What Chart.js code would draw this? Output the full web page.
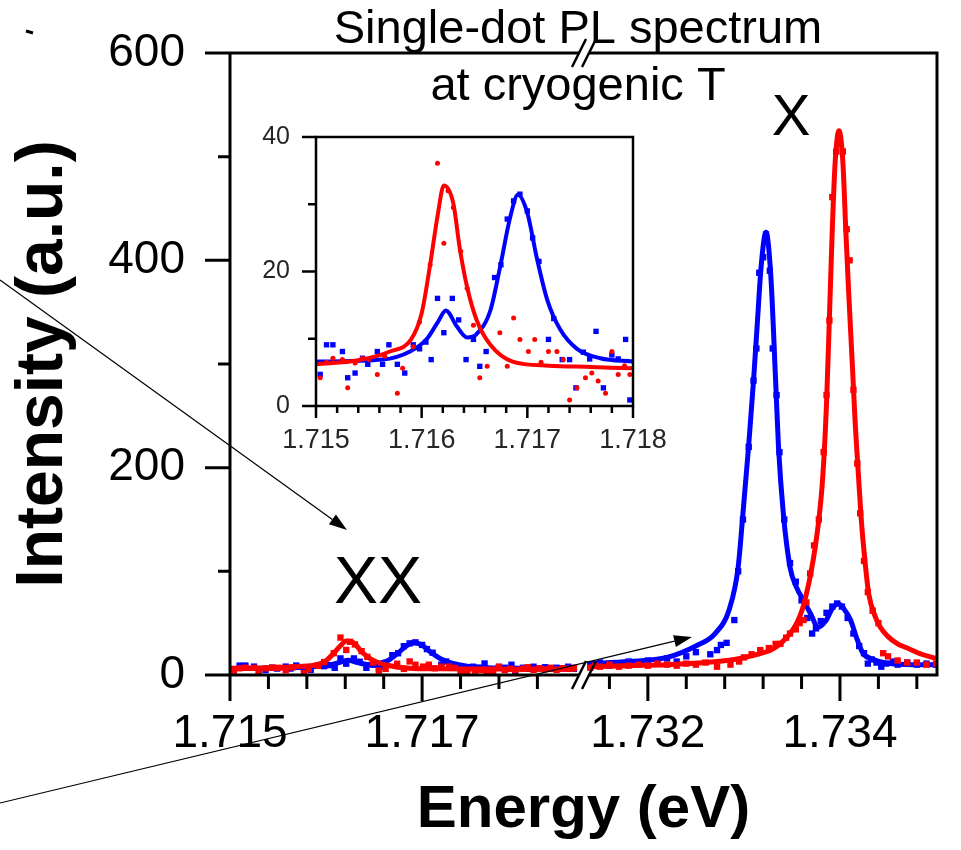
<!DOCTYPE html>
<html>
<head>
<meta charset="utf-8">
<script src="https://cdn.jsdelivr.net/npm/chart.js@4.4.1/dist/chart.umd.min.js"></script>
<style>
  html, body { margin: 0; padding: 0; background: #fff; }
  #wrap { position: relative; width: 961px; height: 850px; overflow: hidden; }
  #main { position: absolute; left: 0; top: 0; }
  #inset { position: absolute; left: 236px; top: 110px; }
</style>
</head>
<body>
<div id="wrap">
  <canvas id="main" width="961" height="850"></canvas>
  <canvas id="inset" width="440" height="360"></canvas>
</div>
<script>
// ---- data (energy in eV, intensity in a.u.) ----

// XX region, also shown enlarged in the inset
var xxRedFitE = [1.7150, 1.7154, 1.7157, 1.7159, 1.7160, 1.71608, 1.71615, 1.71621, 1.71630, 1.71636, 1.71643, 1.71652, 1.71665, 1.71686, 1.7172, 1.7176, 1.7180, 1.7183, 1.7186];
var xxRedFitI = [6.2, 6.8, 8.1, 9.9, 13.8, 21.0, 28.2, 32.8, 30.1, 23.5, 17.7, 12.8, 9.1, 6.6, 6.0, 5.8, 5.6, 5.6, 5.6];

var xxBlueFitE = [1.7150, 1.71563, 1.71589, 1.71605, 1.71615, 1.71623, 1.71633, 1.71643, 1.71652, 1.71665, 1.71674, 1.71684, 1.71691, 1.71700, 1.71709, 1.71719, 1.71731, 1.71747, 1.71769, 1.7180, 1.7183, 1.7186];
var xxBlueFitI = [6.6, 6.9, 8.1, 10.0, 12.4, 14.2, 11.9, 10.2, 10.7, 14.2, 20.5, 28.2, 31.4, 28.7, 22.0, 15.7, 11.4, 8.5, 7.1, 6.6, 6.5, 6.5];

var xxRedPtE = [1.71504, 1.71510, 1.71516, 1.71525, 1.71530, 1.71537, 1.71544, 1.71550, 1.71558, 1.71565, 1.71577, 1.71582, 1.71592, 1.71598, 1.71608, 1.71615, 1.71621, 1.71625, 1.71630, 1.71637, 1.71643, 1.71649, 1.71655, 1.71662, 1.71674, 1.71681, 1.71687, 1.71693, 1.71701, 1.71707, 1.71713, 1.71720, 1.71728, 1.71734, 1.71740, 1.71747, 1.71755, 1.71761, 1.71767, 1.71774, 1.71780, 1.71786, 1.71792, 1.71797, 1.71805, 1.71810, 1.71816, 1.71822, 1.71828, 1.71834, 1.71840, 1.71846, 1.71852, 1.71858];
var xxRedPtI = [4.2, 6.5, 7.1, 6.9, 2.7, 6.4, 7.1, 6.9, 4.7, 7.4, 1.9, 5.6, 8.8, 12.5, 21.0, 36.1, 24.2, 32.0, 29.5, 23.0, 17.5, 12.0, 4.2, 5.9, 10.9, 5.9, 13.1, 9.9, 8.1, 9.9, 6.5, 8.1, 8.1, 6.9, 0.9, 2.7, 4.2, 4.9, 3.7, 1.9, 8.1, 4.7, 6.0, 4.7, 6.0, 7.5, 5.0, 6.5, 5.5, 7.0, 5.0, 6.5, 6.0, 7.0];

var xxBluePtE = [1.71504, 1.71510, 1.71516, 1.71525, 1.71530, 1.71537, 1.71544, 1.71549, 1.71558, 1.71563, 1.71569, 1.71577, 1.71584, 1.71592, 1.71598, 1.71604, 1.71609, 1.71615, 1.71621, 1.71629, 1.71635, 1.71642, 1.71649, 1.71655, 1.71661, 1.71669, 1.71675, 1.71681, 1.71687, 1.71693, 1.71700, 1.71705, 1.71711, 1.71720, 1.71725, 1.71733, 1.71740, 1.71746, 1.71753, 1.71759, 1.71765, 1.71772, 1.71780, 1.71786, 1.71793, 1.71797, 1.71805, 1.71810, 1.71816, 1.71822, 1.71828, 1.71834, 1.71840, 1.71846, 1.71852, 1.71858];
var xxBluePtI = [4.7, 9.1, 9.1, 8.1, 4.2, 4.9, 7.1, 6.2, 8.1, 6.2, 9.1, 6.2, 4.9, 9.1, 8.5, 9.5, 6.9, 16.0, 10.9, 16.0, 12.8, 6.9, 9.9, 5.9, 8.1, 19.1, 21.0, 27.8, 30.5, 31.5, 29.0, 25.0, 21.5, 9.9, 13.0, 6.9, 6.9, 2.7, 8.0, 7.0, 11.1, 2.7, 7.6, 7.0, 9.9, 0.9, 7.0, 6.0, 8.0, 6.5, 7.5, 6.0, 7.0, 6.5, 8.0, 6.0];

// X region (right of the axis break)
var xRedFitE = [1.7314, 1.7318, 1.7322, 1.7326, 1.7329, 1.7331, 1.7333, 1.7334, 1.73348, 1.73355, 1.73361, 1.73366, 1.73370, 1.73374, 1.73378, 1.73382, 1.73386, 1.73389, 1.73392, 1.73395, 1.73399, 1.73403, 1.73406, 1.73409, 1.73413, 1.73416, 1.73419, 1.73422, 1.73426, 1.73430, 1.73436, 1.73442, 1.73450, 1.73460, 1.73470, 1.73485, 1.73500];
var xRedFitI = [8, 9, 10, 12, 15, 19, 25, 32, 40, 50, 64, 82, 100, 122, 150, 190, 262, 345, 430, 495, 525, 495, 430, 370, 297, 240, 196, 152, 110, 78, 58, 46, 37, 30, 26, 20, 16];

var xBlueFitE = [1.7314, 1.7318, 1.7322, 1.7325, 1.7327, 1.73285, 1.73294, 1.73299, 1.73305, 1.73310, 1.73314, 1.73318, 1.73323, 1.73328, 1.73333, 1.73336, 1.73341, 1.73348, 1.73355, 1.73362, 1.73370, 1.73377, 1.73385, 1.73392, 1.73398, 1.73404, 1.73411, 1.73418, 1.73424, 1.73435, 1.73452, 1.73475, 1.73500];
var xBlueFitI = [11, 13, 17, 28, 40, 64, 104, 156, 222, 284, 340, 395, 427, 385, 284, 220, 156, 104, 84, 72, 58, 46, 52, 64, 69, 64, 53, 34, 21, 15, 11, 10, 10];

var xRedPtE = [1.7314, 1.73145, 1.7315, 1.7316, 1.7317, 1.7318, 1.7319, 1.7320, 1.7321, 1.7322, 1.7323, 1.7324, 1.7325, 1.7326, 1.73272, 1.73286, 1.73295, 1.7330, 1.73308, 1.73317, 1.73326, 1.73333, 1.73338, 1.73344, 1.73348, 1.73354, 1.73358, 1.73362, 1.73365, 1.73369, 1.73373, 1.73378, 1.73383, 1.73386, 1.73389, 1.73392, 1.73396, 1.73400, 1.73403, 1.73407, 1.73410, 1.73414, 1.73418, 1.73421, 1.73425, 1.73429, 1.73434, 1.73440, 1.73445, 1.7345, 1.7346, 1.7347, 1.7348, 1.7349, 1.7350];
var xRedPtI = [7, 9, 8, 10, 8, 9, 10, 9, 11, 10, 9, 11, 10, 12, 8, 10, 13, 17, 20, 24, 26, 30, 30, 36, 40, 44, 50, 53, 70, 98, 125, 150, 215, 270, 342, 461, 505, 512, 505, 430, 400, 275, 204, 156, 110, 80, 62, 50, 21, 18, 14, 12, 12, 10, 11];

var xBluePtE = [1.7314, 1.7315, 1.7316, 1.7317, 1.7318, 1.7319, 1.7320, 1.7321, 1.7322, 1.7323, 1.7324, 1.7325, 1.73265, 1.73272, 1.73276, 1.73282, 1.7329, 1.73294, 1.73299, 1.73305, 1.73310, 1.73313, 1.73316, 1.73320, 1.73323, 1.73327, 1.73330, 1.73334, 1.73337, 1.73342, 1.73348, 1.73354, 1.73360, 1.73366, 1.73371, 1.73375, 1.73380, 1.73386, 1.73392, 1.73397, 1.73402, 1.73408, 1.73414, 1.73420, 1.73425, 1.73429, 1.73433, 1.73438, 1.73443, 1.73448, 1.73455, 1.7346, 1.7347, 1.7348, 1.7349, 1.7350];
var xBluePtI = [10, 12, 9, 11, 13, 12, 14, 12, 16, 13, 18, 22, 20, 24, 29, 31, 53, 100, 150, 220, 284, 315, 388, 403, 425, 390, 315, 270, 215, 150, 108, 90, 72, 55, 40, 45, 52, 60, 66, 69, 66, 55, 40, 28, 21, 11, 15, 12, 8, 11, 13, 10, 12, 10, 11, 10];

// tick positions and labels
var mainTicksLeft = [1.715, 1.7154, 1.7158, 1.7162, 1.7166, 1.717, 1.7174, 1.7178, 1.7182];
var mainTicksRight = [1.7316, 1.732, 1.7324, 1.7328, 1.7332, 1.7336, 1.734, 1.7344, 1.7348];
var mainMajor = [1.715, 1.717, 1.732, 1.734];
var insetTicks = [1.715, 1.7152, 1.7154, 1.7156, 1.7158, 1.716, 1.7162, 1.7164, 1.7166, 1.7168, 1.717, 1.7172, 1.7174, 1.7176, 1.7178, 1.718];
var insetMajor = [1.715, 1.716, 1.717, 1.718];
var titleLines = ['Single-dot PL spectrum', 'at cryogenic T'];

// ---- helpers ----
var FONT = '"Liberation Sans", Arial, Helvetica, sans-serif';
var RED = '#ff0000';
var BLUE = '#0000ff';
var OFF = 0.01265; // energy cut out by the axis break

Chart.defaults.font.family = FONT;
Chart.defaults.color = '#000';

function brk(e) { return e > 1.725 ? e - OFF : e; }
function realE(v) { return v > 1.7188 ? v + OFF : v; }
function toPts(es, is, maxE) {
  var out = [];
  for (var i = 0; i < es.length; i++) {
    if (maxE && es[i] > maxE) continue;
    out.push({ x: brk(es[i]), y: is[i] });
  }
  return out;
}
function isMajor(list, v) {
  for (var i = 0; i < list.length; i++) if (Math.abs(list[i] - v) < 1e-6) return true;
  return false;
}
function arrow(ctx, x1, y1, x2, y2) {
  var ang = Math.atan2(y2 - y1, x2 - x1);
  var len = 18, hw = 6;
  var bx = x2 - len * Math.cos(ang), by = y2 - len * Math.sin(ang);
  ctx.beginPath();
  ctx.moveTo(x1, y1);
  ctx.lineTo(bx, by);
  ctx.stroke();
  ctx.beginPath();
  ctx.moveTo(x2, y2);
  ctx.lineTo(bx + hw * Math.sin(ang), by - hw * Math.cos(ang));
  ctx.lineTo(bx - hw * Math.sin(ang), by + hw * Math.cos(ang));
  ctx.closePath();
  ctx.fill();
}
function lineSet(data, color, width) {
  return { data: data, showLine: true, pointRadius: 0, borderColor: color, backgroundColor: color,
           borderWidth: width, cubicInterpolationMode: 'monotone' };
}
function pointSet(data, color, style, r) {
  return { data: data, showLine: false, pointStyle: style, pointRadius: r, pointBorderWidth: 0,
           borderColor: color, backgroundColor: color };
}

// frame, ticks, break marks and annotations of the main plot
var mainDeco = {
  id: 'mainDeco',
  afterDraw: function (chart) {
    var ctx = chart.ctx, a = chart.chartArea;
    var sx = chart.scales.x, sy = chart.scales.y;
    var cut = (sx.getPixelForValue(1.7186) + sx.getPixelForValue(brk(1.7314))) / 2 + 1;
    ctx.save();
    ctx.fillStyle = '#000';
    ctx.textAlign = 'center';
    ctx.textBaseline = 'alphabetic';
    ctx.font = '47px ' + FONT;
    ctx.fillText(titleLines[0], 578, 43);
    ctx.fillText(titleLines[1], 578, 100);
    ctx.font = '58px ' + FONT;
    ctx.fillText('X', sx.getPixelForValue(brk(1.73349)), sy.getPixelForValue(521));
    ctx.font = '66px ' + FONT;
    ctx.fillText('XX', sx.getPixelForValue(1.71654), sy.getPixelForValue(69));

    ctx.strokeStyle = '#000';
    ctx.lineWidth = 3;
    ctx.beginPath();
    ctx.moveTo(a.left, a.top); ctx.lineTo(cut - 5, a.top);
    ctx.moveTo(cut + 5, a.top); ctx.lineTo(a.right, a.top);
    ctx.moveTo(a.left, a.bottom); ctx.lineTo(cut - 5, a.bottom);
    ctx.moveTo(cut + 5, a.bottom); ctx.lineTo(a.right, a.bottom);
    ctx.moveTo(a.left, a.top - 1.5); ctx.lineTo(a.left, a.bottom + 1.5);
    ctx.moveTo(a.right, a.top - 1.5); ctx.lineTo(a.right, a.bottom + 1.5);
    sx.ticks.forEach(function (t) {
      var px = sx.getPixelForValue(t.value);
      ctx.moveTo(px, a.bottom); ctx.lineTo(px, a.bottom + (t.label ? 26 : 14));
    });
    sy.ticks.forEach(function (t) {
      var py = sy.getPixelForValue(t.value);
      ctx.moveTo(a.left, py); ctx.lineTo(a.left - (t.label !== '' ? 25 : 12), py);
    });
    ctx.stroke();

    // axis break "//"
    ctx.lineWidth = 2.5;
    ctx.beginPath();
    [a.top, a.bottom].forEach(function (y) {
      [-5, 5].forEach(function (d) {
        ctx.moveTo(cut + d - 7, y + 14); ctx.lineTo(cut + d + 7, y - 14);
      });
    });
    ctx.stroke();

    // thin pointer arrows
    ctx.lineWidth = 1.2;
    arrow(ctx, 0, 280, 347, 530);
    arrow(ctx, 0, 803, 692, 637);

    // small stray mark top left
    ctx.lineWidth = 3;
    ctx.beginPath();
    ctx.moveTo(26, 31); ctx.lineTo(33, 33);
    ctx.stroke();
    ctx.restore();
  }
};

var insetDeco = {
  id: 'insetDeco',
  afterDraw: function (chart) {
    var ctx = chart.ctx, a = chart.chartArea;
    var sx = chart.scales.x, sy = chart.scales.y;
    ctx.save();
    ctx.strokeStyle = '#000';
    ctx.lineWidth = 2.5;
    ctx.strokeRect(a.left, a.top, a.right - a.left, a.bottom - a.top);
    ctx.beginPath();
    sx.ticks.forEach(function (t) {
      var px = sx.getPixelForValue(t.value);
      ctx.moveTo(px, a.bottom); ctx.lineTo(px, a.bottom + (t.label ? 12 : 7));
    });
    sy.ticks.forEach(function (t) {
      var py = sy.getPixelForValue(t.value);
      ctx.moveTo(a.left, py); ctx.lineTo(a.left - (t.label !== '' ? 14 : 8), py);
    });
    ctx.stroke();
    ctx.restore();
  }
};

var hiddenGrid = { drawOnChartArea: false, tickColor: 'rgba(0,0,0,0)' };

// ---- main chart ----
new Chart(document.getElementById('main'), {
  type: 'scatter',
  data: {
    datasets: [
      pointSet(toPts(xxRedPtE, xxRedPtI).concat(toPts(xRedPtE, xRedPtI)), RED, 'rect', 4.5),
      lineSet(toPts(xxRedFitE, xxRedFitI), RED, 5),
      lineSet(toPts(xRedFitE, xRedFitI), RED, 5),
      pointSet(toPts(xxBluePtE, xxBluePtI).concat(toPts(xBluePtE, xBluePtI)), BLUE, 'rect', 4.5),
      lineSet(toPts(xxBlueFitE, xxBlueFitI), BLUE, 5),
      lineSet(toPts(xBlueFitE, xBlueFitI), BLUE, 5)
    ]
  },
  options: {
    responsive: false,
    animation: false,
    devicePixelRatio: 1,
    layout: { padding: { left: 0, top: 53, right: 24, bottom: 0 } },
    plugins: { legend: { display: false }, tooltip: { enabled: false } },
    scales: {
      x: {
        type: 'linear',
        min: 1.715,
        max: 1.72236,
        afterBuildTicks: function (scale) {
          scale.ticks = mainTicksLeft.concat(mainTicksRight.map(brk)).map(function (v) { return { value: v }; });
        },
        afterFit: function (scale) { scale.height = 175; },
        border: { display: false },
        grid: Object.assign({ tickLength: 26 }, hiddenGrid),
        ticks: {
          autoSkip: false,
          maxRotation: 0,
          padding: 6,
          font: { size: 46 },
          color: '#000',
          callback: function (v) {
            var e = realE(v);
            return isMajor(mainMajor, e) ? e.toFixed(3) : '';
          }
        },
        title: {
          display: true,
          text: 'Energy (eV)',
          color: '#000',
          font: { size: 60, weight: 'bold' },
          padding: { top: 0, bottom: 4 }
        }
      },
      y: {
        min: 0,
        max: 600,
        afterFit: function (scale) { scale.width = 230; },
        border: { display: false },
        grid: Object.assign({ tickLength: 25 }, hiddenGrid),
        ticks: {
          stepSize: 100,
          padding: 20,
          font: { size: 46 },
          color: '#000',
          callback: function (v) { return v % 200 === 0 ? String(v) : ''; }
        },
        title: {
          display: true,
          text: 'Intensity (a.u.)',
          color: '#000',
          font: { size: 66, weight: 'bold' },
          padding: { top: 4, bottom: 0 }
        }
      }
    }
  },
  plugins: [mainDeco]
});

// ---- inset chart (XX region enlarged) ----
new Chart(document.getElementById('inset'), {
  type: 'scatter',
  data: {
    datasets: [
      pointSet(toPts(xxRedPtE, xxRedPtI, 1.71801), RED, 'circle', 2.5),
      lineSet(toPts(xxRedFitE, xxRedFitI, 1.71801), RED, 4),
      pointSet(toPts(xxBluePtE, xxBluePtI, 1.71801), BLUE, 'rect', 3.8),
      lineSet(toPts(xxBlueFitE, xxBlueFitI, 1.71801), BLUE, 4)
    ]
  },
  options: {
    responsive: false,
    animation: false,
    devicePixelRatio: 1,
    layout: { padding: { left: 0, top: 18, right: 43, bottom: 0 } },
    plugins: { legend: { display: false }, tooltip: { enabled: false } },
    scales: {
      x: {
        type: 'linear',
        min: 1.715,
        max: 1.718,
        afterBuildTicks: function (scale) {
          scale.ticks = insetTicks.map(function (v) { return { value: v }; });
        },
        afterFit: function (scale) { scale.height = 64; },
        border: { display: false },
        grid: Object.assign({ tickLength: 12 }, hiddenGrid),
        ticks: {
          autoSkip: false,
          maxRotation: 0,
          padding: 6,
          font: { size: 27 },
          color: '#262626',
          callback: function (v) { return isMajor(insetMajor, v) ? v.toFixed(3) : ''; }
        }
      },
      y: {
        min: 0,
        max: 40,
        afterFit: function (scale) { scale.width = 80; },
        border: { display: false },
        grid: Object.assign({ tickLength: 14 }, hiddenGrid),
        ticks: {
          stepSize: 10,
          padding: 12,
          font: { size: 25 },
          color: '#262626',
          callback: function (v) { return v % 20 === 0 ? String(v) : ''; }
        }
      }
    }
  },
  plugins: [insetDeco]
});
</script>
</body>
</html>
